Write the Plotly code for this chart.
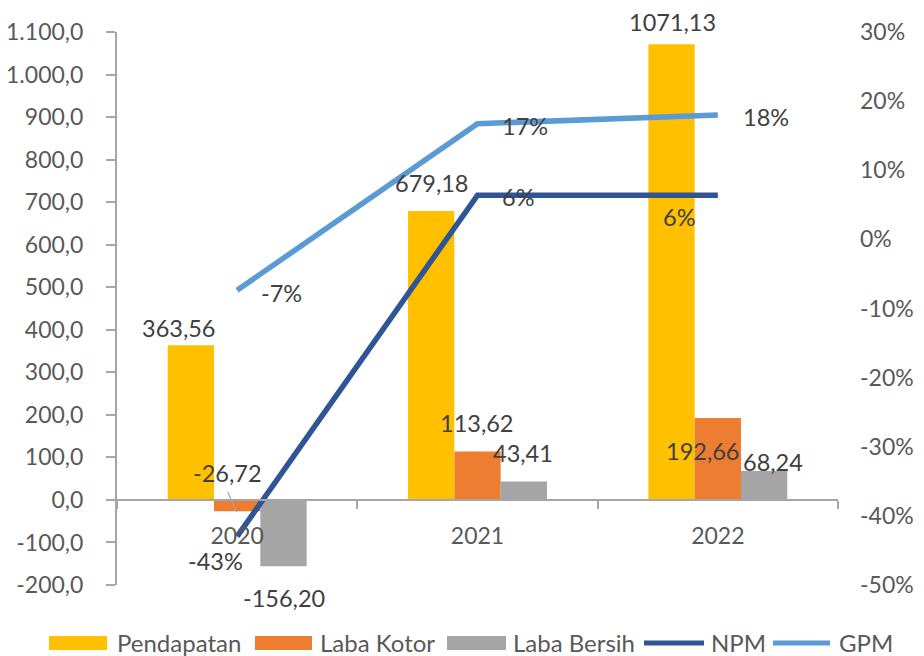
import plotly.graph_objects as go

# ---------------- data ----------------
YEARS = ["2020", "2021", "2022"]
PENDAPATAN = [363.56, 679.18, 1071.13]
LABA_KOTOR = [-26.72, 113.62, 192.66]
LABA_BERSIH = [-156.20, 43.41, 68.24]
NPM = [-0.4296, 0.0639, 0.0637]
GPM = [-0.0735, 0.1673, 0.1799]

Y1_TICKS = [-200, -100, 0, 100, 200, 300, 400, 500, 600, 700, 800, 900, 1000, 1100]
Y1_TICK_LABELS = ["-200,0", "-100,0", "0,0", "100,0", "200,0", "300,0", "400,0",
                  "500,0", "600,0", "700,0", "800,0", "900,0", "1.000,0", "1.100,0"]
Y2_TICKS = [-0.5, -0.4, -0.3, -0.2, -0.1, 0.0, 0.1, 0.2, 0.3]
Y2_TICK_LABELS = ["-50%", "-40%", "-30%", "-20%", "-10%", "0%", "10%", "20%", "30%"]

# ---------------- styling / layout ----------------
W, H = 924, 656
ML, MR, MT, MB = 117, 86, 32, 71
PW, PH = W - ML - MR, H - MT - MB
Y1_RANGE = [-200, 1100]
Y2_RANGE = [-0.5, 0.3]
X_RANGE = [-0.5, len(YEARS) - 0.5]
BARGAP = 0.422
COLORS = {"Pendapatan": "#FFC000", "Laba Kotor": "#ED7D31", "Laba Bersih": "#A5A5A5",
          "NPM": "#2F5597", "GPM": "#5B9BD5"}
FONT = "Lato"
AXIS_GRAY = "#A6A6A6"
TICK_TXT = "#595959"
LABEL_TXT = "#404040"
LABEL_SIZE = 23.5
TICK_SIZE = 23
LEGEND_SIZE = 24

cat_w = PW / len(YEARS)
bar_w = cat_w * (1 - BARGAP) / 3
BAR_OFFSETS = [-bar_w, 0.0, bar_w]

# label offsets (px) relative to bar centre / value
BAR_LABEL_SHIFT = {
    "Pendapatan": [(-12, 17), (0, 28), (1, 22)],
    "Laba Kotor": [(-10, 38), (-1, 29), (-15.5, -33)],
    "Laba Bersih": [(0.7, -32), (-1, 28.5), (9, 9)],
}
LINE_LABEL_SHIFT = {
    "GPM": [(44.5, -3), (47, -2), (48, -2)],
    "NPM": [(-21.5, -24.6), (40.3, -2), (-39, -21.6)],
}


def fmt_num(v):
    return f"{v:.2f}".replace(".", ",")


def fmt_pct(v):
    return f"{round(v * 100)}%"


def px_x(px):
    return (px - ML) / PW


def px_y(py):
    return (H - MB - py) / PH


fig = go.Figure()

bar_series = [("Pendapatan", PENDAPATAN), ("Laba Kotor", LABA_KOTOR), ("Laba Bersih", LABA_BERSIH)]
for name, vals in bar_series:
    fig.add_trace(go.Bar(x=YEARS, y=vals, name=name, marker=dict(color=COLORS[name], line=dict(width=0)),
                         showlegend=False, yaxis="y", xaxis="x"))

line_series = [("NPM", NPM), ("GPM", GPM)]
for name, vals in line_series:
    fig.add_trace(go.Scatter(x=YEARS, y=vals, name=name, mode="lines",
                             line=dict(color=COLORS[name], width=5.5),
                             showlegend=False, yaxis="y2", xaxis="x"))

annotations = []
# annotation x uses the category index (numeric-looking year strings would be read as numbers)
for bi, (name, vals) in enumerate(bar_series):
    for i, v in enumerate(vals):
        dx, dy = BAR_LABEL_SHIFT[name][i]
        annotations.append(dict(x=i, y=v, xref="x", yref="y", text=fmt_num(v),
                                showarrow=False, xanchor="center", yanchor="middle",
                                xshift=BAR_OFFSETS[bi] + dx, yshift=dy,
                                font=dict(family=FONT, size=LABEL_SIZE, color=LABEL_TXT)))
for name, vals in line_series:
    for i, v in enumerate(vals):
        dx, dy = LINE_LABEL_SHIFT[name][i]
        annotations.append(dict(x=i, y=v, xref="x", yref="y2", text=fmt_pct(v),
                                showarrow=False, xanchor="center", yanchor="middle",
                                xshift=dx, yshift=dy,
                                font=dict(family=FONT, size=LABEL_SIZE, color=LABEL_TXT)))

shapes = []
# leader line for the Laba Kotor 2020 label (anchored at category index 0)
shapes.append(dict(type="line", xref="x", yref="y", xsizemode="pixel", ysizemode="pixel",
                   xanchor=0, yanchor=LABA_KOTOR[0],
                   x0=-9.5, x1=-0.5, y0=19.4, y1=-0.6,
                   line=dict(color=AXIS_GRAY, width=1.2)))

# manual legend (wide Excel-like swatches)
LEGEND_Y = 643
LEGEND_TEXT_Y = 642
legend_items = [
    ("Pendapatan", "bar", 49, 107, 115),
    ("Laba Kotor", "bar", 255, 312, 318),
    ("Laba Bersih", "bar", 447, 506, 511),
    ("NPM", "line", 642, 706, 709),
    ("GPM", "line", 771, 832, 837),
]
for name, kind, sx0, sx1, tx in legend_items:
    if kind == "bar":
        shapes.append(dict(type="rect", xref="paper", yref="paper",
                           x0=px_x(sx0), x1=px_x(sx1), y0=px_y(LEGEND_Y + 7), y1=px_y(LEGEND_Y - 7),
                           fillcolor=COLORS[name], line=dict(width=0)))
    else:
        shapes.append(dict(type="line", xref="paper", yref="paper",
                           x0=px_x(sx0 + 2), x1=px_x(sx1 - 2), y0=px_y(LEGEND_Y), y1=px_y(LEGEND_Y),
                           line=dict(color=COLORS[name], width=5)))
    annotations.append(dict(x=px_x(tx), y=px_y(LEGEND_TEXT_Y), xref="paper", yref="paper", text=name,
                            showarrow=False, xanchor="left", yanchor="middle",
                            font=dict(family=FONT, size=LEGEND_SIZE, color=TICK_TXT)))

zero_pos = (0 - Y1_RANGE[0]) / (Y1_RANGE[1] - Y1_RANGE[0])

fig.update_layout(
    width=W, height=H, autosize=False,
    margin=dict(l=ML, r=MR, t=MT, b=MB, pad=0, autoexpand=False),
    paper_bgcolor="white", plot_bgcolor="white",
    barmode="group", bargap=BARGAP, bargroupgap=0,
    font=dict(family=FONT, size=TICK_SIZE, color=TICK_TXT),
    xaxis=dict(type="category", range=X_RANGE, anchor="free", position=zero_pos, domain=[0, 1],
               automargin=False,
               showline=True, linecolor=AXIS_GRAY, linewidth=2,
               ticks="outside", tickson="boundaries", ticklen=8, tickwidth=2, tickcolor=AXIS_GRAY,
               showgrid=False, zeroline=False, ticklabelstandoff=15,
               tickfont=dict(family=FONT, size=TICK_SIZE, color=TICK_TXT)),
    yaxis=dict(range=Y1_RANGE, domain=[0, 1], anchor="x", tickmode="array", automargin=False,
               tickvals=Y1_TICKS, ticktext=Y1_TICK_LABELS,
               showline=True, linecolor=AXIS_GRAY, linewidth=2,
               ticks="outside", ticklen=9, tickwidth=2, tickcolor=AXIS_GRAY,
               showgrid=False, zeroline=False, ticklabelstandoff=18,
               tickfont=dict(family=FONT, size=TICK_SIZE, color=TICK_TXT)),
    yaxis2=dict(range=Y2_RANGE, overlaying="y", side="right", anchor="x", tickmode="array",
                automargin=False,
                tickvals=Y2_TICKS, ticktext=Y2_TICK_LABELS,
                showline=False, ticks="", showgrid=False, zeroline=False, ticklabelstandoff=21,
                tickfont=dict(family=FONT, size=TICK_SIZE, color=TICK_TXT)),
    annotations=annotations,
    shapes=shapes,
    showlegend=False,
)

fig.write_html("out.html", config={"displayModeBar": False},
               post_script="document.body.style.margin='0';")
